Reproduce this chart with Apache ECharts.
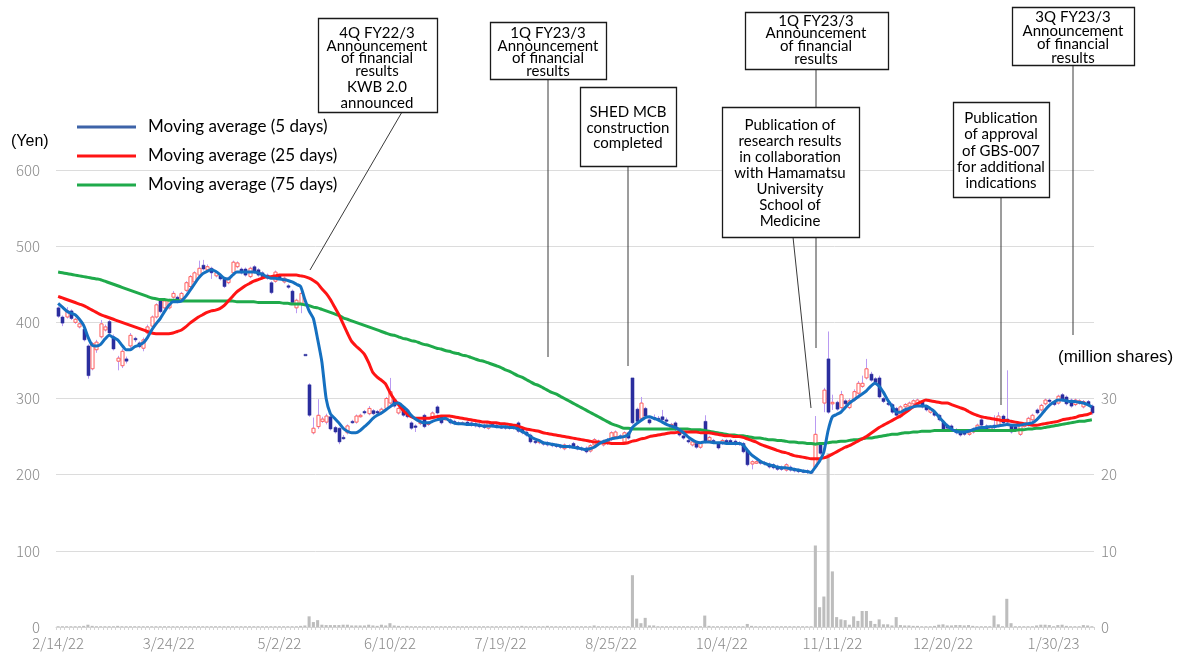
<!DOCTYPE html>
<html><head><meta charset="utf-8">
<script src="https://cdn.jsdelivr.net/npm/echarts@6/dist/echarts.min.js"></script>
<style>html,body{margin:0;padding:0;background:#fff}#c{width:1179px;height:653px}</style>
</head><body><div id="c"></div>
<script>
// Trading-day calendar (TSE): weekdays minus exchange holidays, 2/14/22 .. 2/10/23
const startDate = [2022, 1, 14];
const dayCount = 244;
const holidays = ['2022-02-23','2022-03-21','2022-04-29','2022-05-03','2022-05-04','2022-05-05','2022-07-18','2022-08-11','2022-09-19','2022-09-23','2022-10-10','2022-11-03','2022-11-23','2023-01-02','2023-01-03','2023-01-09'];
const categories = [];
(function(){
  let d = new Date(Date.UTC(startDate[0], startDate[1], startDate[2]));
  while (categories.length < dayCount) {
    const wd = d.getUTCDay();
    const iso = d.toISOString().slice(0,10);
    if (wd !== 0 && wd !== 6 && holidays.indexOf(iso) < 0) {
      categories.push((d.getUTCMonth()+1) + '/' + d.getUTCDate() + '/' + String(d.getUTCFullYear()).slice(2));
    }
    d = new Date(d.getTime() + 86400000);
  }
})();

// Daily candles: [open, close, low, high] (yen)
const candles = [
[419,408,406,421],[407,399,395,409],[407,415,405,420],[415,405,403,417],[400,404,398,406],
[394,398,392,400],[391,377,375,393],[369,330,326,371],[339,372,337,374],[364,374,360,377],
[381,398,379,403],[390,394,388,397],[401,386,384,403],[381,365,363,384],[349,353,337,356],
[343,362,340,365],[352,349,346,355],[369,383,366,386],[379,377,374,381],[373,368,366,375],
[366,377,362,380],[386,394,384,397],[395,407,393,409],[407,423,405,425],[428,414,412,430],
[419,428,417,430],[419,429,417,431],[433,438,431,441],[433,427,425,435],[431,438,429,440],
[442,452,440,454],[447,460,445,462],[453,465,451,467],[462,471,460,481],[475,470,468,482],
[469,473,467,476],[471,465,457,473],[461,465,459,467],[461,457,455,463],[457,447,445,459],
[452,458,450,460],[465,479,463,481],[473,478,471,480],[470,465,463,472],[470,462,460,472],
[460,471,458,473],[473,466,464,475],[469,462,460,471],[465,460,458,467],[462,458,456,464],
[452,439,437,454],[454,466,452,468],[461,458,456,463],[453,458,451,460],[448,446,444,450],
[441,426,424,443],[419,429,412,431],[425,438,412,440],[358,358,358,358],[318,278,276,320],
[255,261,253,275],[263,278,260,299],[270,273,268,276],[269,277,266,280],[276,260,258,278],
[262,256,254,264],[261,243,240,262],[249,248,246,252],[255,264,253,266],[270,269,267,272],
[269,277,267,279],[277,278,275,280],[283,281,279,285],[280,287,278,290],[284,280,278,286],
[283,281,279,285],[281,286,279,288],[287,300,285,302],[294,309,292,327],[299,290,288,301],
[281,287,279,289],[289,278,276,291],[285,276,274,287],[268,261,259,270],[264,263,256,266],
[267,269,265,271],[278,263,261,280],[266,268,264,270],[276,281,274,283],[289,281,279,291],
[276,268,266,278],[273,274,271,276],[272,268,266,274],[270,267,265,272],[268,267,265,270],
[267,268,265,270],[269,266,264,271],[268,265,263,270],[267,264,262,269],[266,263,261,268],
[265,262,260,267],[261,268,259,270],[266,264,262,268],[265,263,261,267],[263,262,260,265],
[263,261,259,265],[261,263,259,265],[263,261,259,265],[268,257,255,270],[260,255,253,262],
[256,252,250,258],[252,243,241,254],[244,242,240,246],[242,244,240,246],[242,240,238,244],
[242,239,237,244],[240,238,236,242],[239,237,235,241],[238,236,234,240],[234,239,232,241],
[238,236,234,240],[241,237,235,243],[237,234,232,239],[235,233,231,237],[235,230,228,237],
[231,238,229,240],[239,246,237,248],[244,242,240,246],[239,244,237,246],[241,246,239,248],
[246,255,244,257],[250,256,248,258],[251,249,247,253],[243,255,241,257],[255,248,246,257],
[327,268,266,327],[286,270,268,288],[274,294,272,302],[287,277,275,289],[272,268,266,274],
[275,274,271,279],[274,273,270,277],[276,272,270,285],[272,271,268,275],[261,266,259,268],
[268,259,257,270],[259,252,250,261],[251,248,246,253],[245,243,241,247],[239,243,237,245],
[241,236,234,243],[236,241,234,243],[270,243,241,278],[245,249,243,251],[245,244,242,247],
[241,235,233,243],[241,245,239,247],[245,241,239,247],[245,241,239,247],[244,240,238,246],
[242,240,238,244],[241,230,228,243],[232,213,211,234],[214,217,207,219],[216,217,214,219],
[217,215,213,219],[216,214,212,218],[214,210,208,216],[213,209,207,215],[211,207,205,213],
[210,207,205,212],[206,213,204,215],[210,206,204,212],[207,205,203,209],[206,204,202,208],
[205,204,202,207],[205,203,201,207],[204,203,201,206],[210,253,208,277],[239,228,226,242],
[294,311,282,314],[352,282,280,388],[293,295,285,305],[295,286,284,297],[288,305,286,310],
[297,293,291,299],[288,297,286,300],[298,309,296,312],[307,320,305,323],[316,320,314,330],
[327,339,325,352],[332,324,322,335],[326,321,319,328],[327,302,300,330],[300,296,294,302],
[294,292,290,296],[292,282,280,294],[287,278,276,289],[276,289,274,291],[289,292,287,294],
[290,294,288,296],[293,297,291,299],[294,298,292,300],[296,289,287,298],[290,285,283,292],
[282,286,280,288],[282,278,276,284],[278,272,270,280],[269,259,257,271],[265,261,259,267],
[264,261,259,266],[259,255,253,261],[256,252,250,258],[256,253,251,258],[253,255,251,257],
[256,260,254,262],[260,265,258,267],[272,265,263,274],[264,260,258,266],[259,263,257,265],
[265,262,260,278],[265,277,263,282],[277,268,266,279],[273,269,267,337],[265,256,254,267],
[263,258,256,265],[253,265,251,267],[264,265,262,267],[265,274,263,276],[272,278,270,280],
[285,281,279,287],[285,291,283,293],[293,298,291,300],[298,296,294,300],[296,292,290,298],
[294,303,292,305],[305,298,296,307],[302,293,291,304],[298,290,288,300],[292,298,290,300],
[294,297,292,299],[289,296,287,298],[296,292,290,298],[290,281,279,292]
];

// Volume (million shares)
const volume = [
0.1,0.1,0.1,0.1,0.1,0.1,0.15,0.3,0.15,0.1,
0.1,0.1,0.1,0.1,0.15,0.1,0.1,0.1,0.1,0.1,
0.1,0.1,0.1,0.1,0.1,0.1,0.1,0.1,0.1,0.1,
0.1,0.1,0.1,0.1,0.1,0.1,0.1,0.1,0.1,0.1,
0.1,0.1,0.1,0.1,0.1,0.1,0.1,0.1,0.1,0.1,
0.1,0.1,0.1,0.1,0.1,0.1,0.1,0.15,0.2,1.4,
0.65,0.9,0.3,0.25,0.25,0.25,0.25,0.3,0.3,0.2,
0.2,0.2,0.2,0.3,0.2,0.15,0.3,0.2,0.5,0.2,
0.15,0.1,0.15,0.1,0.1,0.1,0.1,0.1,0.1,0.1,
0.1,0.1,0.1,0.1,0.1,0.1,0.1,0.1,0.1,0.1,
0.1,0.1,0.1,0.1,0.1,0.1,0.1,0.1,0.1,0.15,
0.1,0.1,0.1,0.1,0.1,0.15,0.1,0.1,0.1,0.1,
0.1,0.1,0.1,0.1,0.1,0.1,0.2,0.1,0.1,0.1,
0.1,0.1,0.1,0.1,0.1,6.8,1.1,0.5,1.2,0.2,
0.2,0.1,0.1,0.1,0.1,0.1,0.1,0.1,0.1,0.1,
0.1,0.1,1.5,0.15,0.1,0.1,0.1,0.1,0.1,0.1,
0.1,0.1,0.4,0.15,0.1,0.1,0.1,0.1,0.1,0.1,
0.1,0.1,0.1,0.1,0.1,0.1,0.1,0.1,10.7,2.6,
4.0,22.8,7.3,1.3,1.0,0.9,0.3,1.4,0.8,2.1,
2.1,0.8,0.4,1.0,0.35,0.35,0.2,1.3,0.25,0.2,
0.2,0.15,0.15,0.1,0.1,0.1,0.15,0.3,0.35,0.2,
0.2,0.25,0.25,0.2,0.25,0.15,0.1,0.1,0.1,0.1,
1.5,0.35,0.1,3.7,0.5,0.1,0.1,0.1,0.1,0.1,
0.2,0.3,0.3,0.25,0.1,0.25,0.3,0.15,0.1,0.1,
0.1,0.25,0.2,0.1
];

// Moving averages (yen)
const ma5 = [
425,420,415,412,410,404,396,381,370,369,
371,378,383,380,377,370,364,364,368,370,
373,380,390,398,405,414,422,427,427,428,
434,442,450,458,464,467,469,467,463,458,
457,462,466,466,466,466,466,465,463,460,
458,458,457,456,455,453,450,447,430,415,
405,378,348,300,280,274,268,261,257,255,
255,258,263,268,274,278,281,285,289,293,
294,290,285,278,273,270,268,268,270,272,
273,274,271,268,267,267,266,266,266,265,
264,264,264,263,263,263,262,262,260,257,
254,250,247,245,242,241,240,239,238,237,
237,236,235,234,233,234,236,240,243,245,
247,248,249,250,252,262,267,271,275,276,
274,272,269,266,264,262,259,255,250,246,
243,242,243,243,242,242,242,241,241,241,
241,239,232,226,222,218,215,213,212,210,
209,209,208,207,206,205,204,203,210,218,
230,258,276,279,282,288,294,298,302,306,
310,316,320,316,308,298,290,282,282,285,
287,289,290,290,290,287,283,276,270,264,
260,257,256,256,257,259,261,262,262,263,
263,264,265,266,265,265,265,266,267,268,
272,278,285,291,295,298,298,297,296,296,
295,294,292,289
];
const ma25 = [
434,432,430,428,426,424,422,419,416,413,
410,408,406,404,402,400,398,396,394,392,
390,388,386,385,385,385,385,386,388,390,
394,399,403,407,410,413,415,416,418,422,
428,434,440,444,448,451,454,456,458,460,
460,461,462,462,462,462,462,461,460,458,
455,451,444,438,430,420,410,398,386,375,
369,364,358,347,334,328,324,319,308,299,
292,285,280,276,274,274,274,274,275,276,
277,277,277,276,275,274,273,272,271,270,
269,269,268,268,267,267,266,265,264,262,
260,259,258,257,255,254,253,252,251,250,
249,248,247,246,245,244,243,243,242,242,
241,241,241,241,242,244,245,247,248,250,
251,252,253,254,255,255,256,256,256,256,
256,255,255,255,254,253,252,251,251,250,
250,249,247,245,243,240,238,236,234,232,
230,229,227,225,224,223,222,221,221,221,
222,224,227,230,233,236,238,241,244,247,
250,254,258,262,265,268,271,274,277,281,
285,289,293,296,298,297,296,295,294,294,
292,290,288,286,283,280,278,276,275,274,
273,272,271,271,270,269,268,267,266,265,
265,266,267,268,269,270,272,273,274,275,
277,278,279,281
];
const ma75 = [
466,465,464,463,462,461,460,459,458,457,
456,454,452,450,448,446,444,442,440,438,
436,434,432,431,430,430,429,429,429,428,
428,428,428,428,428,428,428,428,428,428,
428,428,427,427,427,427,427,426,426,426,
426,426,426,425,425,424,424,424,423,422,
420,419,417,415,413,411,409,406,404,402,
400,398,396,394,392,390,388,386,384,383,
381,379,378,376,375,373,371,370,368,366,
365,363,362,360,359,357,356,354,352,350,
349,347,345,343,341,338,336,333,330,328,
325,322,319,317,314,311,308,306,303,300,
297,294,291,288,285,282,279,276,273,270,
267,265,263,261,261,260,260,260,260,260,
260,260,260,260,260,260,260,260,260,259,
259,259,258,257,256,255,254,253,252,252,
251,251,250,249,248,248,247,246,246,245,
245,244,243,243,242,242,241,241,240,241,
241,242,243,243,244,244,245,246,246,247,
248,248,249,250,251,252,253,253,254,255,
255,256,256,257,257,257,258,258,258,258,
258,258,258,258,258,258,258,258,258,258,
258,258,258,258,258,258,259,259,260,260,
261,261,262,263,264,265,266,267,268,269,
270,270,271,272
];

const priceTicks = [0, 600, 100];   // min, max, interval (yen)
const volumeTicks = [0, 60, 10, 30]; // min, max, interval, last labelled value
const seriesNames = ['Moving average (5 days)', 'Moving average (25 days)', 'Moving average (75 days)'];

// Annotation callouts (text lines)
const notes = [
  {box:[318,18,119,94], cx:377, lines:[['4Q FY22/3',33],['Announcement',46],['of financial',58],['results',71],['KWB 2.0',87],['announced',103]]},
  {box:[490,22,116,57], cx:548, lines:[['1Q FY23/3',33],['Announcement',46],['of financial',58],['results',71]]},
  {box:[580,87,96,79], cx:628, lines:[['SHED MCB',112],['construction',128],['completed',143]]},
  {box:[745,12,143,57], cx:816, lines:[['1Q FY23/3',21],['Announcement',33],['of financial',46],['results',59]]},
  {box:[722,107,137,130], cx:790, lines:[['Publication of',125],['research results',141],['in collaboration',157],['with Hamamatsu',173],['University',189],['School of',205],['Medicine',221]]},
  {box:[953,102,96,95], cx:1001, lines:[['Publication',118],['of approval',134],['of GBS-007',151],['for additional',167],['indications',183]]},
  {box:[1012,7,122,58], cx:1073, lines:[['3Q FY23/3',17],['Announcement',31],['of financial',44],['results',58]]}
];
const pointers = [[402,112,310,270],[548,79,548,357],[628,166,628,366],[816,69,816,107],[816,237,816,348],[793,237,811,408],[1001,197,1001,405],[1073,65,1073,335]];

const candleData = candles.map((c, i) => [i, c[0], c[1], c[2], c[3]]);

const graphics = [];
pointers.forEach(p => graphics.push({type:'line', z:100, shape:{x1:p[0],y1:p[1],x2:p[2],y2:p[3]}, style:{stroke:'#3a3a3a', lineWidth:1}}));
notes.forEach(n => {
  graphics.push({type:'rect', z:101, shape:{x:n.box[0]+0.5,y:n.box[1]+0.5,width:n.box[2],height:n.box[3]}, style:{fill:'#fff', stroke:'#1a1a1a', lineWidth:1.3}});
  n.lines.forEach(l => graphics.push({type:'text', z:102, x:n.cx, y:l[1], style:{text:l[0], fill:'#000', font:'15px Lato, "Open Sans", sans-serif', textAlign:'center', textVerticalAlign:'middle'}}));
});
graphics.push({type:'text', z:102, x:11, y:142, style:{text:'(Yen)', fill:'#000', font:'16px "Liberation Sans", Arial, sans-serif', textAlign:'left', textVerticalAlign:'middle'}});
graphics.push({type:'text', z:102, x:1058, y:357, style:{text:'(million shares)', fill:'#000', font:'17px "Liberation Sans", Arial, sans-serif', textAlign:'left', textVerticalAlign:'middle'}});

const tickFont = {color:'#8a8a8a', fontSize:15, fontFamily:'"Noto Sans CJK JP", "Noto Sans", sans-serif', fontWeight:300};

const chart = echarts.init(document.getElementById('c'), null, {renderer:'canvas'});
chart.setOption({
  animation:false,
  backgroundColor:'#fff',
  grid:{left:56, right:85, top:170, bottom:26, containLabel:false},
  legend:{
    orient:'vertical', left:77, top:117, padding:0, itemWidth:59, itemHeight:3, itemGap:9, icon:'rect',
    textStyle:{fontFamily:'Lato, "Open Sans", sans-serif', fontSize:17, color:'#000', lineHeight:20, padding:[0,0,0,7]},
    data:[
      {name:seriesNames[0], itemStyle:{color:'#3d63a8'}},
      {name:seriesNames[1], itemStyle:{color:'#ff1414'}},
      {name:seriesNames[2], itemStyle:{color:'#1faa4b'}}
    ]
  },
  xAxis:{
    type:'category', data:categories, boundaryGap:true,
    axisLine:{lineStyle:{color:'#d4d4d4', width:1}},
    axisTick:{show:true, interval:0, length:3, lineStyle:{color:'#d4d4d4'}},
    axisLabel:Object.assign({interval:25, margin:9}, tickFont),
    splitLine:{show:false}
  },
  yAxis:[
    {type:'value', min:priceTicks[0], max:priceTicks[1], interval:priceTicks[2],
     axisLine:{show:false}, axisTick:{show:false},
     axisLabel:Object.assign({margin:16}, tickFont),
     splitLine:{lineStyle:{color:'#dcdcdc', width:1}}},
    {type:'value', min:volumeTicks[0], max:volumeTicks[1], interval:volumeTicks[2], position:'right',
     axisLine:{show:false}, axisTick:{show:false},
     axisLabel:Object.assign({margin:7, formatter:v => v <= volumeTicks[3] ? String(v) : ''}, tickFont),
     splitLine:{show:false}}
  ],
  series:[
    {type:'bar', name:'Volume', yAxisIndex:1, data:volume, barWidth:'72%', itemStyle:{color:'#bdbdbd'}, z:1, silent:true},
    {type:'custom', name:'Price', yAxisIndex:0, z:3, silent:true,
     encode:{x:0, y:[1,2,3,4]}, data:candleData,
     renderItem:function(params, api){
       const i = api.value(0), o = api.value(1), c = api.value(2), l = api.value(3), h = api.value(4);
       const pO = api.coord([i,o]), pC = api.coord([i,c]), pL = api.coord([i,l]), pH = api.coord([i,h]);
       const x = Math.round(pO[0]) + 0.5;
       const bw = api.size([1,0])[0]*0.72;
       const up = c > o;
       const top = Math.min(pO[1], pC[1]);
       const ht = Math.max(Math.abs(pO[1]-pC[1]), 1.5);
       return {type:'group', children:[
         {type:'line', shape:{x1:x, y1:pH[1], x2:x, y2:pL[1]}, style:{stroke:'#b99af2', lineWidth:1}},
         {type:'rect', shape:{x:x-bw/2, y:top, width:bw, height:ht},
          style: up ? {fill:'#ffffff', stroke:'#ff5c5c', lineWidth:1} : {fill:'#2b2e9e', stroke:'#2b2e9e', lineWidth:0.5}}
       ]};
     }},
    {type:'line', name:seriesNames[2], yAxisIndex:0, data:ma75, showSymbol:false, smooth:0.2, z:4, lineStyle:{color:'#1faa4b', width:3}, itemStyle:{color:'#1faa4b'}},
    {type:'line', name:seriesNames[1], yAxisIndex:0, data:ma25, showSymbol:false, smooth:0.2, z:5, lineStyle:{color:'#ff1414', width:3}, itemStyle:{color:'#ff1414'}},
    {type:'line', name:seriesNames[0], yAxisIndex:0, data:ma5, showSymbol:false, smooth:0.2, z:6, lineStyle:{color:'#1570c0', width:3}, itemStyle:{color:'#1570c0'}}
  ],
  graphic:graphics
});
</script></body></html>
